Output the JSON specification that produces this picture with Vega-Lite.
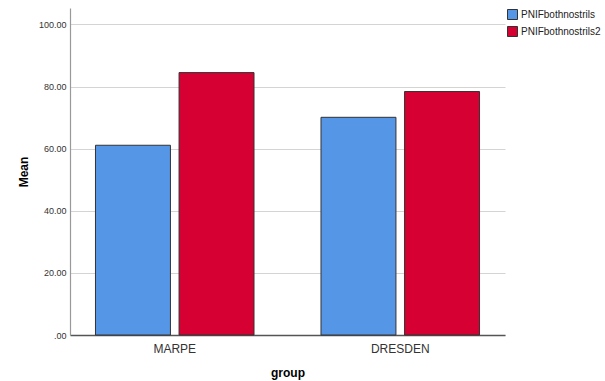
{
  "$schema": "https://vega.github.io/schema/vega-lite/v6.json",
  "width": 435,
  "height": 327,
  "autosize": {"type": "none"},
  "padding": {"left": 70, "top": 8, "right": 100, "bottom": 46},
  "background": "white",
  "config": {
    "view": {"stroke": null},
    "font": "Liberation Sans"
  },
  "data": {
    "values": [
      {"group": "MARPE", "variable": "PNIFbothnostrils", "mean": 61.1},
      {"group": "MARPE", "variable": "PNIFbothnostrils2", "mean": 84.5},
      {"group": "DRESDEN", "variable": "PNIFbothnostrils", "mean": 70.1},
      {"group": "DRESDEN", "variable": "PNIFbothnostrils2", "mean": 78.4}
    ]
  },
  "mark": {"type": "bar", "stroke": "#333333", "strokeWidth": 1},
  "encoding": {
    "x": {
      "field": "group",
      "type": "nominal",
      "sort": ["MARPE", "DRESDEN"],
      "scale": {"paddingInner": 0.297, "paddingOuter": 0.113},
      "axis": {
        "title": "group",
        "titleFontWeight": "bold",
        "titleFontSize": 12,
        "titleColor": "#000000",
        "titlePadding": 13,
        "labelAngle": 0,
        "labelFontSize": 12,
        "labelColor": "#333333",
        "labelPadding": 8,
        "ticks": false,
        "domainColor": "#555555",
        "domainWidth": 1.5
      }
    },
    "xOffset": {
      "field": "variable",
      "type": "nominal",
      "scale": {"paddingInner": 0.103, "paddingOuter": 0}
    },
    "y": {
      "field": "mean",
      "type": "quantitative",
      "scale": {"domain": [0, 105.3], "nice": false},
      "axis": {
        "title": "Mean",
        "titleFontWeight": "bold",
        "titleFontSize": 12,
        "titleColor": "#000000",
        "titlePadding": 8,
        "values": [0, 20, 40, 60, 80, 100],
        "labelExpr": "datum.value == 0 ? '.00' : format(datum.value, '.2f')",
        "labelFontSize": 9,
        "labelColor": "#333333",
        "labelPadding": 4,
        "ticks": false,
        "grid": true,
        "gridColor": "#d4d4d4",
        "gridWidth": 1.2,
        "domainColor": "#999999",
        "domainWidth": 1.2
      }
    },
    "color": {
      "field": "variable",
      "type": "nominal",
      "scale": {
        "domain": ["PNIFbothnostrils", "PNIFbothnostrils2"],
        "range": ["#5596E6", "#D70032"]
      },
      "legend": {
        "title": null,
        "orient": "none",
        "legendX": 437,
        "legendY": 1,
        "symbolType": "square",
        "symbolSize": 100,
        "symbolStrokeColor": "#333333",
        "symbolStrokeWidth": 1,
        "symbolOpacity": 1,
        "labelFontSize": 10,
        "labelColor": "#222222",
        "labelOffset": 3,
        "rowPadding": 2
      }
    }
  }
}
